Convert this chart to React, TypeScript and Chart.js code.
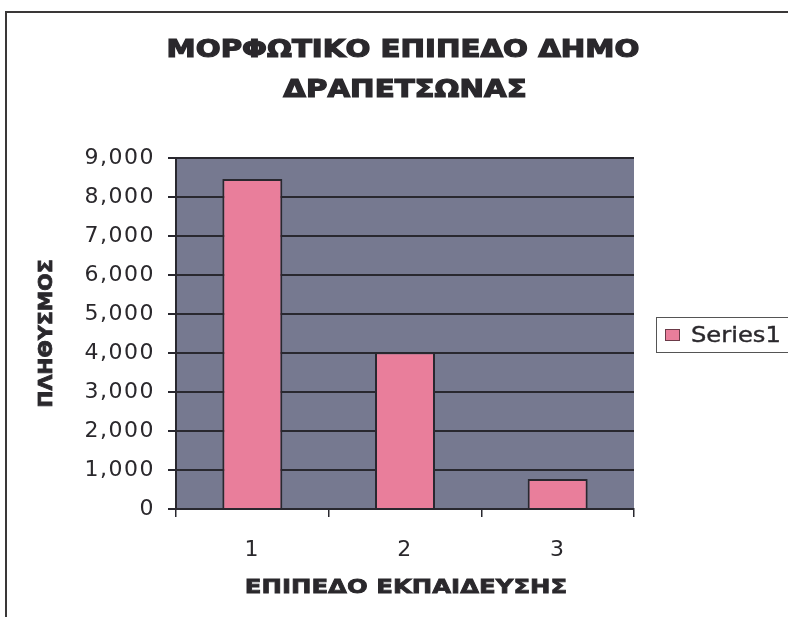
import React, { useEffect, useRef } from "react";
import { Chart, registerables } from "chart.js";

Chart.register(...registerables);

const categories = ["1", "2", "3"];
const seriesName = "Series1";
const seriesValues = [8460, 4020, 770];
const yTickLabels = ["0", "1,000", "2,000", "3,000", "4,000", "5,000", "6,000", "7,000", "8,000", "9,000"];
const titleLines = ["ΜΟΡΦΩΤΙΚΟ ΕΠΙΠΕΔΟ ΔΗΜΟ", "ΔΡΑΠΕΤΣΩΝΑΣ"];
const xTitle = "ΕΠΙΠΕΔΟ ΕΚΠΑΙΔΕΥΣΗΣ";
const yTitle = "ΠΛΗΘΥΣΜΟΣ";

const FONT = "'DejaVu Sans', Verdana, sans-serif";
const INK = "#2a282c";
const PLOT_BG = "#767990";
const BAR = "#e97e9b";
const LINE = "#29282f";

function stretchedText(
  ctx: any,
  text: string,
  x: number,
  y: number,
  sx: number,
  stroke: number,
  rot = 0
) {
  ctx.save();
  ctx.translate(x, y);
  if (rot) ctx.rotate(rot);
  ctx.scale(sx, 1);
  ctx.fillText(text, 0, 0);
  if (stroke > 0) {
    ctx.lineWidth = stroke;
    ctx.strokeStyle = INK;
    ctx.strokeText(text, 0, 0);
  }
  ctx.restore();
}

export default function App() {
  const ref = useRef<HTMLCanvasElement | null>(null);

  useEffect(() => {
    if (!ref.current) return;
    const bgPlugin = {
      id: "plotBg",
      beforeDraw(chart: any) {
        const { ctx, chartArea: a } = chart;
        ctx.save();
        ctx.fillStyle = PLOT_BG;
        ctx.fillRect(a.left, a.top, a.right - a.left, a.bottom - a.top);
        ctx.restore();
        ctx.letterSpacing = "1.5px";
      },
    };
    const titleLegendPlugin = {
      id: "titleLegend",
      afterDraw(chart: any) {
        const { ctx, chartArea: a } = chart;
        const cx = (a.left + a.right) / 2;
        ctx.save();
        ctx.letterSpacing = "0px";
        ctx.fillStyle = INK;
        ctx.textAlign = "center";
        ctx.textBaseline = "alphabetic";
        ctx.font = `bold 24px ${FONT}`;
        stretchedText(ctx, titleLines[0], cx - 2, 57, 1.22, 1.2);
        stretchedText(ctx, titleLines[1], cx, 97, 1.22, 1.2);

        // axis titles
        ctx.textBaseline = "middle";
        ctx.font = `bold 20px ${FONT}`;
        stretchedText(ctx, xTitle, cx + 1, 588, 1.22, 0.8);
        ctx.font = `bold 19px ${FONT}`;
        stretchedText(ctx, yTitle, 47, (a.top + a.bottom) / 2, 1.08, 0.8, -Math.PI / 2);

        // legend
        ctx.strokeStyle = "#555";
        ctx.lineWidth = 1;
        ctx.strokeRect(656.5, 317.5, 150, 35);
        const ds = chart.data.datasets[0];
        ctx.fillStyle = ds.backgroundColor;
        ctx.fillRect(665, 329, 15, 12);
        ctx.strokeStyle = "#6b3a48";
        ctx.strokeRect(665.5, 329.5, 14, 11);
        ctx.fillStyle = INK;
        ctx.textAlign = "left";
        ctx.textBaseline = "middle";
        ctx.font = `22px ${FONT}`;
        stretchedText(ctx, ds.label, 691, 336, 1.1, 0.4);
        ctx.restore();
      },
    };

    const chart = new Chart(ref.current, {
      type: "bar",
      data: {
        labels: categories,
        datasets: [
          {
            label: seriesName,
            data: seriesValues,
            backgroundColor: BAR,
            borderColor: LINE,
            borderWidth: 2,
            barPercentage: 1,
            categoryPercentage: 0.393,
          },
        ],
      },
      options: {
        animation: false,
        responsive: false,
        layout: { padding: { top: 158, right: 154, left: 0, bottom: 0 } },
        plugins: {
          legend: { display: false },
          title: { display: false },
          tooltip: { enabled: false },
        },
        scales: {
          x: {
            grid: {
              display: true,
              drawOnChartArea: false,
              drawTicks: true,
              tickLength: 8,
              offset: true,
              color: LINE,
              lineWidth: 1.5,
            },
            border: { display: true, color: LINE, width: 2 },
            ticks: { padding: 20, color: INK, font: { family: FONT, size: 22 } },
            afterFit: (s: any) => {
              s.height = 108;
            },
          },
          y: {
            min: 0,
            max: 9000,
            grid: { color: LINE, lineWidth: 2, tickLength: 8 },
            border: { display: true, color: LINE, width: 2 },
            ticks: {
              stepSize: 1000,
              padding: 13,
              color: INK,
              font: { family: FONT, size: 22 },
              callback: (_v: any, i: number) => yTickLabels[i],
            },
            afterFit: (s: any) => {
              s.width = 176;
            },
          },
        },
      },
      plugins: [bgPlugin, titleLegendPlugin],
    });
    return () => chart.destroy();
  }, []);

  return (
    <div
      style={{
        position: "fixed",
        left: 0,
        top: 0,
        width: 788,
        height: 617,
        background: "#fff",
        overflow: "hidden",
      }}
    >
      <div
        style={{
          position: "absolute",
          left: 5,
          top: 11,
          width: 800,
          height: 620,
          borderTop: "2px solid #3a3838",
          borderLeft: "2px solid #3a3838",
        }}
      />
      <canvas ref={ref} width={788} height={617} style={{ position: "absolute", left: 0, top: 0 }} />
    </div>
  );
}
